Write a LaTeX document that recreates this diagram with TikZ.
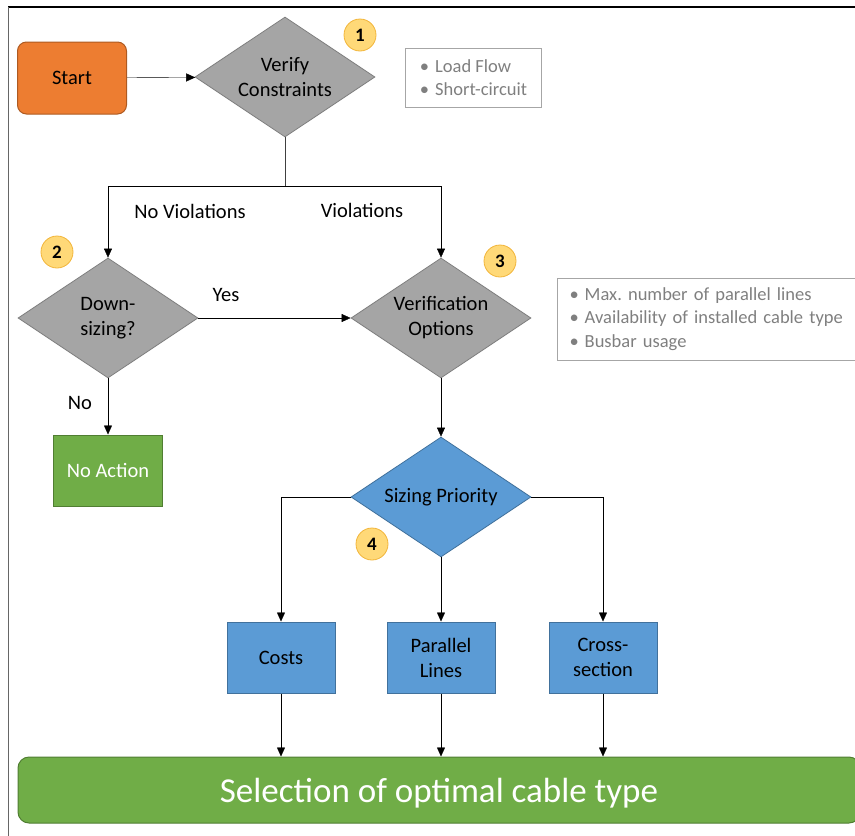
\documentclass[tikz,border=0pt]{standalone}
\usepackage{fontspec}
\setmainfont{Carlito}
\usetikzlibrary{shapes.geometric,arrows.meta,positioning}
\definecolor{orangefill}{HTML}{ED7D31}
\definecolor{orangeline}{HTML}{AE5A21}
\definecolor{grayfill}{HTML}{A5A5A5}
\definecolor{grayline}{HTML}{7F7F7F}
\definecolor{bluefill}{HTML}{5B9BD5}
\definecolor{blueline}{HTML}{41719C}
\definecolor{greenfill}{HTML}{70AD47}
\definecolor{greenline}{HTML}{507E32}
\definecolor{badgefill}{HTML}{FFD978}
\definecolor{badgeline}{HTML}{F2B53A}
\definecolor{notegray}{HTML}{7F7F7F}
\definecolor{notebox}{HTML}{A6A6A6}
\frenchspacing

\begin{document}
\begin{tikzpicture}[x = 1pt, y = -1pt,
                    font = \fontsize{20.5}{25}\selectfont]
% styles
\tikzset{arr/.style={draw=black!75, -{Triangle[length=9pt,width=8pt]}, black},
         decision/.style={diamond, aspect=1.5, minimum width=180pt, minimum height=120pt,
                          inner sep=0pt, align=center, line width=0.8pt},
         graydec/.style={decision, fill=grayfill, draw=grayline},
         bluedec/.style={decision, fill=bluefill, draw=blueline},
         bluebox/.style={rectangle, fill=bluefill, draw=blueline, line width=1pt,
                         minimum width=108pt, minimum height=71pt, align=center},
         badge/.style={circle, fill=badgefill, draw=badgeline, line width=0.8pt,
                       minimum size=32pt, inner sep=0pt, font=\fontsize{19}{20}\selectfont\bfseries},
         notes/.style={rectangle, draw=notebox, line width=1pt, text=notegray,
                       align=left, font=\fontsize{18.5}{23.5}\selectfont}}
\useasboundingbox (0,0) rectangle (855,836);

% frame
\draw [black, line width=1.5pt] (8,7) -- (856,7);
\draw [black!60, line width=1pt] (8,7) -- (8,837);

% nodes
\node [rectangle, rounded corners=9pt, fill=orangefill, draw=orangeline, line width=1pt,
       minimum width=109pt, minimum height=72pt] (start) at (72,78) {Start};
\node [graydec] (verify) at (285,77) {Verify\\Constraints};
\node [badge] (b1) at (360,35) {1};
\node [notes, anchor=west, inner xsep=11pt, minimum width=136pt, minimum height=59pt] (loadflow) at (405,77.5)
      {•\hspace{6pt}Load Flow\\•\hspace{6pt}Short-circuit};

\node [graydec] (down) at (108,318) {Down-\\sizing?};
\node [badge] (b2) at (57,252) {2};
\node [graydec] (verif) at (441,318) {Verification\\Options};
\node [badge] (b3) at (500,261) {3};
\node [notes, anchor=west, text width=290pt, inner xsep=12pt, minimum height=82pt] (options) at (557,319)
      {•\hspace{6pt}Max. number of parallel lines\\
       •\hspace{6pt}Availability of installed cable type\\
       •\hspace{6pt}Busbar usage};

\node [rectangle, fill=greenfill, draw=greenline, line width=1pt, text=white,
       minimum width=109pt, minimum height=71pt] (noaction) at (108,470.5) {No Action};

\node [bluedec] (prio) at (441,497) {Sizing Priority};
\node [badge] (b4) at (372,544) {4};

\node [bluebox] (costs) at (281,657.5) {Costs};
\node [bluebox] (parallel) at (441,657.5) {Parallel\\Lines};
\node [bluebox] (cross) at (603,657.5) {Cross-\\section};

\node [rectangle, rounded corners=11pt, fill=greenfill, draw=greenline, line width=1pt,
       text=white, minimum width=842pt, minimum height=66pt, text depth=0pt,
       font=\fontsize{35}{38}\selectfont] (select) at (439,790) {Selection of optimal cable type};

% connectors
\coordinate (split) at (285,186);
\draw [arr] (start) -- (verify);
\draw [draw=black!75] (verify.south) -- (split);
\draw [arr] (split) -| (down.north);
\draw [arr] (split) -| (verif.north);
\draw [arr] (down.east) -- (verif.west);
\draw [arr] (down.south) -- (noaction.north);
\draw [arr] (verif.south) -- (prio.north);
\draw [arr] (prio.west) -| (costs.north);
\draw [arr] (prio.south) -- (parallel.north);
\draw [arr] (prio.east) -| (cross.north);
\foreach \opt in {costs, parallel, cross}
  \draw [arr] (\opt.south) -- (\opt.south |- select.north);

% labels
\node (noviol) at (190,211) {No Violations};
\node (viol) at (362,210) {Violations};
\node (yes) at (226,295) {Yes};
\node (no) at (80,403) {No};
\end{tikzpicture}
\end{document}
